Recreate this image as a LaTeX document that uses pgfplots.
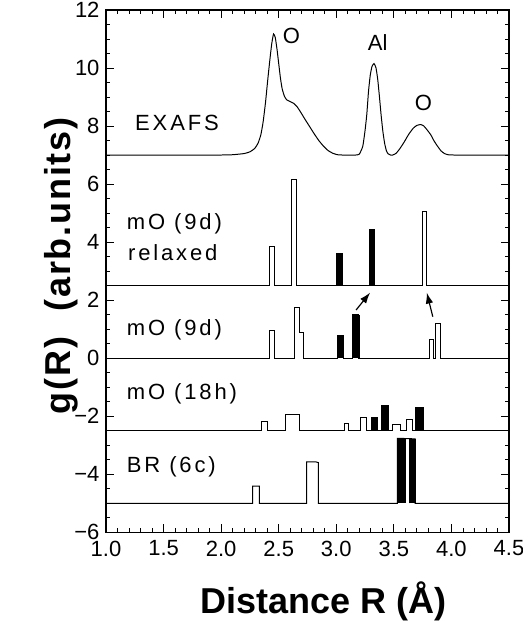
\documentclass[border=0pt]{standalone}
\usepackage{fontspec}
\setmainfont{Liberation Sans}
\newfontfamily\panelfont[LetterSpace=13]{Liberation Sans}
\newfontfamily\ylabfont[LetterSpace=5]{Liberation Sans Bold}
\usepackage{pgfplots}
\pgfplotsset{compat=1.18}
\usetikzlibrary{arrows.meta,calc}

\begin{document}
\begin{tikzpicture}
\begin{axis}[
  scale only axis, width=403bp, height=522.4bp,
  xmin=1, xmax=4.5, ymin=-6, ymax=12,
  xtick={1,1.5,...,4.5}, xticklabels={1.0,1.5,2.0,2.5,3.0,3.5,4.0,4.5},
  ytick={-6,-4,...,12}, yticklabels={−6,−4,−2,0,2,4,6,8,10,12},
  minor x tick num=4, minor y tick num=3,
  tick align=inside, major tick length=8bp, minor tick length=4.5bp,
  every tick/.style={black, line width=0.8pt},
  axis line style={line width=1.3pt},
  tick label style={font=\fontsize{22bp}{24bp}\selectfont},
  xticklabel style={yshift=-5bp},
  yticklabel style={xshift=-3bp},
  xlabel={Distance R (Å)},
  ylabel={g(R)\hspace{0.7em}(arb.units)},
  xlabel style={font=\bfseries\fontsize{36bp}{38bp}\selectfont,
    at={(axis description cs:0.5,0)}, anchor=base, yshift=-81bp, xshift=16bp},
  ylabel style={font=\ylabfont\fontsize{36bp}{38bp}\selectfont,
    at={(axis description cs:-0.089,0.51)}, anchor=base},
  clip=false,
]

% EXAFS
\addplot[black, line width=1pt, smooth, tension=0.3] coordinates {
  (1.0,7) (1.6,7) (2.0,7) (2.1,7.01) (2.2,7.05) (2.25,7.11) (2.29,7.22)
  (2.32,7.40) (2.345,7.70) (2.365,8.15) (2.385,8.80) (2.405,9.60)
  (2.425,10.35) (2.44,10.85) (2.455,11.17) (2.47,11.05) (2.485,10.65)
  (2.50,10.15) (2.515,9.65) (2.53,9.28) (2.55,9.02) (2.57,8.90)
  (2.60,8.84) (2.63,8.78) (2.66,8.66) (2.69,8.48) (2.73,8.22)
  (2.77,7.97) (2.81,7.72) (2.85,7.49) (2.89,7.30) (2.93,7.15)
  (2.97,7.06) (3.01,7.01) (3.05,7.0) (3.12,7.0) (3.17,7.0) (3.20,7.03)
  (3.23,7.3) (3.25,7.85) (3.265,8.4) (3.28,9.2) (3.295,9.75) (3.31,10.05)
  (3.328,10.15) (3.345,10.0) (3.36,9.6) (3.375,9.0) (3.39,8.35)
  (3.405,7.8) (3.42,7.4) (3.435,7.15) (3.45,7.04) (3.47,7.0) (3.49,7.0)
  (3.52,7.06) (3.554,7.23) (3.59,7.45) (3.63,7.72) (3.67,7.93) (3.70,8.02)
  (3.733,8.05) (3.76,8.0) (3.79,7.86) (3.82,7.7) (3.85,7.48) (3.88,7.3)
  (3.91,7.14) (3.94,7.05) (3.97,7.01) (4.02,7.0) (4.2,7.0) (4.5,7.0)
};

% mO (9d) relaxed
\addplot[black, line width=1pt] coordinates {
  (1,2.5) (2.417,2.5) (2.417,3.84) (2.460,3.84) (2.460,2.5)
  (2.613,2.5) (2.613,6.14) (2.656,6.14) (2.656,2.5)
  (3.004,2.5) (3.004,3.59) (3.050,3.59) (3.050,2.5)
  (3.285,2.5) (3.285,4.45) (3.328,4.45) (3.328,2.5)
  (3.748,2.5) (3.748,5.07) (3.786,5.07) (3.786,2.5) (4.5,2.5)
};
\addplot[fill=black, draw=black] coordinates {(3.004,2.5) (3.004,3.59) (3.050,3.59) (3.050,2.5)};
\addplot[fill=black, draw=black] coordinates {(3.285,2.5) (3.285,4.45) (3.328,4.45) (3.328,2.5)};

% mO (9d)
\addplot[black, line width=1pt] coordinates {
  (1,0) (2.42,0) (2.42,0.95) (2.46,0.95) (2.46,0)
  (2.636,0) (2.636,1.74) (2.677,1.74) (2.677,0.88) (2.714,0.88) (2.714,0)
  (3.014,0) (3.014,0.79) (3.06,0.79) (3.06,0)
  (3.142,0) (3.142,1.49) (3.195,1.49) (3.195,0)
  (3.809,0) (3.809,0.63) (3.846,0.63) (3.846,0)
  (3.858,0) (3.858,1.20) (3.905,1.20) (3.905,0) (4.5,0)
};
\addplot[fill=black, draw=black] coordinates {(3.014,0) (3.014,0.79) (3.06,0.79) (3.06,0)};
\addplot[fill=black, draw=black] coordinates {(3.142,0) (3.142,1.49) (3.195,1.49) (3.195,0)};

% mO (18h)
\addplot[black, line width=1pt] coordinates {
  (1,-2.5) (2.347,-2.5) (2.347,-2.19) (2.405,-2.19) (2.405,-2.5)
  (2.56,-2.5) (2.56,-1.93) (2.68,-1.93) (2.68,-2.5)
  (3.07,-2.5) (3.07,-2.24) (3.11,-2.24) (3.11,-2.5)
  (3.207,-2.5) (3.207,-2.04) (3.265,-2.04) (3.265,-2.5)
  (3.308,-2.5) (3.308,-2.04) (3.357,-2.04) (3.357,-2.5)
  (3.389,-2.5) (3.389,-1.64) (3.453,-1.64) (3.453,-2.5)
  (3.487,-2.5) (3.487,-2.28) (3.554,-2.28) (3.554,-2.5)
  (3.606,-2.5) (3.606,-2.10) (3.664,-2.10) (3.664,-2.5)
  (3.685,-2.5) (3.685,-1.70) (3.751,-1.70) (3.751,-2.5) (4.5,-2.5)
};
\addplot[fill=black, draw=black] coordinates {(3.308,-2.5) (3.308,-2.04) (3.357,-2.04) (3.357,-2.5)};
\addplot[fill=black, draw=black] coordinates {(3.389,-2.5) (3.389,-1.64) (3.453,-1.64) (3.453,-2.5)};
\addplot[fill=black, draw=black] coordinates {(3.685,-2.5) (3.685,-1.70) (3.751,-1.70) (3.751,-2.5)};

% BR (6c)
\addplot[black, line width=1pt] coordinates {
  (1,-5) (2.274,-5) (2.274,-4.41) (2.332,-4.41) (2.332,-5)
  (2.743,-5) (2.743,-3.57) (2.82,-3.57) (2.845,-3.60) (2.845,-5)
  (3.53,-5) (3.53,-2.76) (3.684,-2.78) (3.684,-5) (4.5,-5)
};
\addplot[fill=black, draw=black] coordinates {(3.53,-5) (3.53,-2.76) (3.597,-2.76) (3.597,-5)};
\addplot[fill=black, draw=black] coordinates {(3.634,-5) (3.634,-2.80) (3.684,-2.80) (3.684,-5)};

% arrows
\draw[-{Latex[length=11bp,width=7.5bp]}, line width=1.2pt] (axis cs:3.172,1.66) -- (axis cs:3.294,2.26);
\draw[-{Latex[length=11bp,width=7.5bp]}, line width=1.2pt] (axis cs:3.838,1.43) -- (axis cs:3.786,2.26);

% panel labels
\begin{scope}[every node/.style={inner sep=0pt, anchor=base west,
    font=\panelfont\fontsize{22bp}{24bp}\selectfont}]
\node at (axis cs:1.252,7.84) {EXAFS};
\node at (axis cs:1.18,4.42) {mO (9d)};
\node at (axis cs:1.19,3.38) {relaxed};
\node at (axis cs:1.18,0.77) {mO (9d)};
\node at (axis cs:1.18,-1.44) {mO (18h)};
\node at (axis cs:1.18,-3.94) {BR (6c)};
\end{scope}
\begin{scope}[every node/.style={inner sep=0pt,
    font=\fontsize{22bp}{24bp}\selectfont}]
\node at (axis cs:2.61,11.11) {O};
\node at (axis cs:3.359,10.86) {Al};
\node at (axis cs:3.757,8.79) {O};
\end{scope}
\end{axis}
\pgfresetboundingbox
\path[use as bounding box] ($(current axis.south west)+(-106bp,-99.7bp)$)
  rectangle ($(current axis.north east)+(14bp,9.9bp)$);
\end{tikzpicture}
\end{document}
